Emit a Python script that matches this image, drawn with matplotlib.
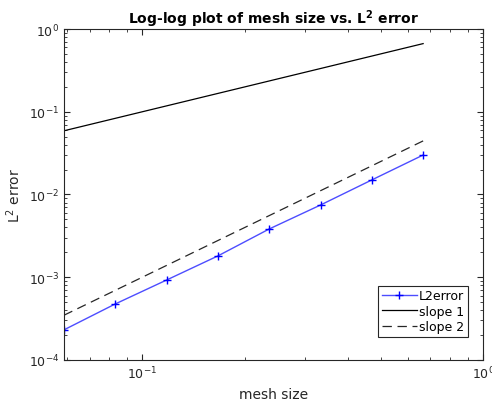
import numpy as np
import matplotlib
matplotlib.use('Agg')
import matplotlib.pyplot as plt

# mesh sizes and L2 errors
h = [0.6667, 0.4714, 0.3333, 0.2357, 0.1667, 0.1179, 0.0833, 0.0589]
l2err = [3.0e-2, 1.50e-2, 7.46e-3, 3.83e-3, 1.81e-3, 9.26e-4, 4.75e-4, 2.31e-4]
h = np.array(h)
slope1 = h
slope2 = h**2 / 10

plt.rcParams['font.family'] = 'DejaVu Sans'
fig = plt.figure(figsize=(4.92, 4.06), dpi=100)
ax = fig.add_axes([0.130, 0.111, 0.852, 0.815])

ax.loglog(h, l2err, '-+', color=(0.3, 0.3, 1.0), mec='blue', ms=6, mew=1, lw=1, label='L2error')
ax.loglog(h, slope1, 'k-', lw=0.9, label='slope 1')
ax.loglog(h, slope2, '--', color=(0.15, 0.15, 0.15), lw=0.9, dashes=(7.5, 4.5), label='slope 2')

ax.set_xlim(h.min(), 1)
ax.set_ylim(1e-4, 1)

gray = (0.15, 0.15, 0.15)
ax.tick_params(which='both', direction='in', top=True, right=True, colors=gray, labelsize=9)
ax.tick_params(which='major', length=4)
ax.tick_params(which='minor', length=2)
for s in ax.spines.values():
    s.set_color(gray)
    s.set_linewidth(0.8)

ax.set_title('Log-log plot of mesh size vs. L$^{\\mathbf{2}}$ error', fontsize=10, fontweight='bold', pad=4)
ax.set_xlabel('mesh size', fontsize=10, color=gray)
ax.set_ylabel('L$^2$ error', fontsize=10, color=gray)

leg = ax.legend(loc='lower right', bbox_to_anchor=(0.964, 0.069), fontsize=9, fancybox=False,
                framealpha=1, edgecolor=gray, borderpad=0.3, labelspacing=0.2,
                handlelength=2.8, handletextpad=0.2, borderaxespad=0)
leg.get_frame().set_linewidth(0.8)

fig.savefig('out.png', dpi=100)
